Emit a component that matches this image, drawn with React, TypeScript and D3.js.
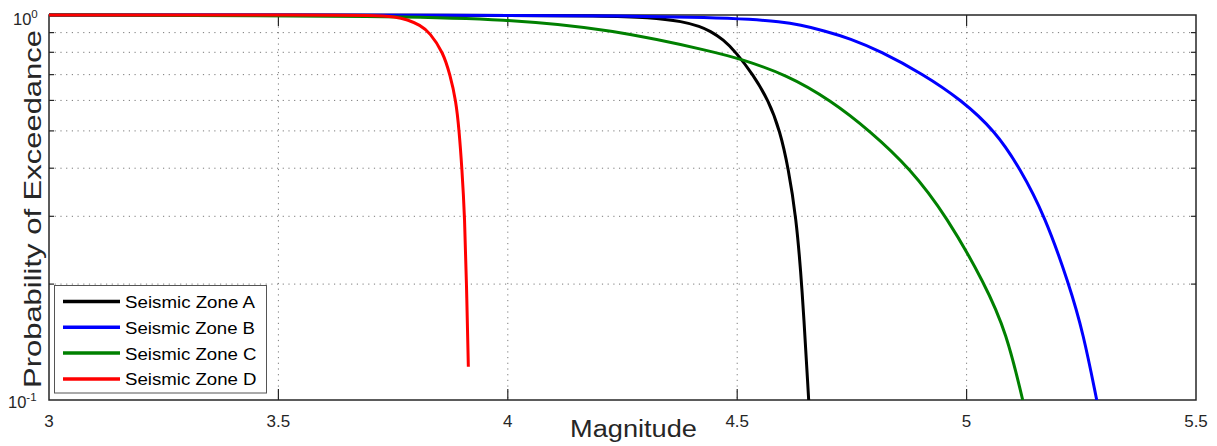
import React from "react";
import * as d3 from "d3";

// ---- Data ----
const zoneAMag = [3.0, 3.998, 4.201, 4.31, 4.3825, 4.4189, 4.4407, 4.4697, 4.4974, 4.5344, 4.5682, 4.5933, 4.6114, 4.6282, 4.6412, 4.6558];
const zoneAProb = [1.0, 0.999, 0.9953, 0.9869, 0.9619, 0.9335, 0.9089, 0.8637, 0.8, 0.7, 0.6, 0.5, 0.4, 0.3, 0.2, 0.1];

const zoneBMag = [3.0, 3.998, 4.2446, 4.4473, 4.5279, 4.5933, 4.6369, 4.6914, 4.7459, 4.8112, 4.9028, 4.99, 5.0619, 5.1164, 5.1709, 5.2232, 5.2544, 5.2836];
const zoneBProb = [1.0, 0.9994, 0.9953, 0.9863, 0.9746, 0.9607, 0.9431, 0.9089, 0.869, 0.8063, 0.7047, 0.6, 0.5, 0.4, 0.3, 0.2, 0.149, 0.1];

const zoneCMag = [3.0, 3.4991, 3.7214, 3.9976, 4.2299, 4.4538, 4.5061, 4.6079, 4.7044, 4.7894, 4.8766, 4.9566, 5.0401, 5.0874, 5.1223];
const zoneCProb = [1.0, 0.9964, 0.9911, 0.9775, 0.9169, 0.8, 0.7694, 0.7, 0.6, 0.5, 0.4, 0.3, 0.2, 0.149, 0.1];

const zoneDMag = [3.0, 3.612, 3.7, 3.758, 3.78, 3.809, 3.83, 3.859, 3.874, 3.887, 3.894, 3.9, 3.906, 3.91, 3.914];
const zoneDProb = [1.0, 1.0, 0.998, 0.99, 0.973, 0.942, 0.9, 0.8, 0.7, 0.6, 0.5, 0.4, 0.3, 0.2, 0.122];

const seriesNames = ["Seismic Zone A", "Seismic Zone B", "Seismic Zone C", "Seismic Zone D"];
const seriesColors = ["#000000", "#0000ff", "#008000", "#ff0000"];

const xTicks = [3, 3.5, 4, 4.5, 5, 5.5];
const xTickLabels = ["3", "3.5", "4", "4.5", "5", "5.5"];
const yMinorTicks = [0.2, 0.3, 0.4, 0.5, 0.6, 0.7, 0.8, 0.9];

const xLabel = "Magnitude";
const yLabel = "Probability of Exceedance";

export default function App() {
  const W = 1217;
  const H = 446;
  const left = 49, right = 1196, top = 15, bottom = 400;

  const x = d3.scaleLinear().domain([3, 5.5]).range([left, right]);
  const y = d3.scaleLog().domain([0.1, 1]).range([bottom, top]);

  const series = [
    { mag: zoneAMag, prob: zoneAProb },
    { mag: zoneBMag, prob: zoneBProb },
    { mag: zoneCMag, prob: zoneCProb },
    { mag: zoneDMag, prob: zoneDProb },
  ];

  const line = d3
    .line<[number, number]>()
    .x((d) => x(d[0]))
    .y((d) => y(d[1]))
    .curve(d3.curveBasis);

  const axisColor = "#262626";
  const gridColor = "#7a7a7a";
  const font = "'Liberation Sans', Arial, Helvetica, sans-serif";

  return (
    <svg
      width={W}
      height={H}
      style={{ position: "absolute", left: 0, top: 0, background: "#fff" }}
      fontFamily={font}
    >
      <defs>
        <clipPath id="plotClip">
          <rect x={left} y={top - 3} width={right - left} height={bottom - top + 3} />
        </clipPath>
      </defs>
      <rect x={0} y={0} width={W} height={H} fill="#fff" />

      {/* grid */}
      {xTicks
        .filter((t) => t > 3 && t < 5.5)
        .map((t) => (
          <line
            key={"gx" + t}
            x1={x(t)}
            x2={x(t)}
            y1={top}
            y2={bottom}
            stroke={gridColor}
            strokeWidth={1}
            strokeDasharray="1.2 4.5"
          />
        ))}
      {yMinorTicks.map((t) => (
        <line
          key={"gy" + t}
          x1={left}
          x2={right}
          y1={y(t)}
          y2={y(t)}
          stroke={gridColor}
          strokeWidth={1}
          strokeDasharray="1.2 4.5"
        />
      ))}

      {/* box */}
      <rect
        x={left}
        y={top}
        width={right - left}
        height={bottom - top}
        fill="none"
        stroke={axisColor}
        strokeWidth={1.5}
      />

      {/* ticks */}
      {xTicks
        .filter((t) => t > 3 && t < 5.5)
        .map((t) => (
          <g key={"tx" + t} stroke={axisColor} strokeWidth={1.2}>
            <line x1={x(t)} x2={x(t)} y1={bottom} y2={bottom - 11} />
            <line x1={x(t)} x2={x(t)} y1={top} y2={top + 11} />
          </g>
        ))}
      {yMinorTicks.map((t) => (
        <g key={"ty" + t} stroke={axisColor} strokeWidth={1.2}>
          <line x1={left} x2={left + 5} y1={y(t)} y2={y(t)} />
          <line x1={right} x2={right - 5} y1={y(t)} y2={y(t)} />
        </g>
      ))}

      {/* curves */}
      <g clipPath="url(#plotClip)">
        {series.map((s, i) => (
          <path
            key={"s" + i}
            d={line(s.mag.map((m, j) => [m, s.prob[j]] as [number, number])) || ""}
            fill="none"
            stroke={seriesColors[i]}
            strokeWidth={3}
            strokeLinejoin="round"
          />
        ))}
      </g>

      {/* x tick labels */}
      {xTicks.map((t, i) => (
        <text
          key={"xl" + t}
          x={x(t)}
          y={427}
          textAnchor="middle"
          fontSize={17}
          fill={axisColor}
        >
          {xTickLabels[i]}
        </text>
      ))}

      {/* y tick labels */}
      <text x={13} y={25} fontSize={16.5} fill={axisColor}>
        10
        <tspan dy={-7} fontSize={11.5}>0</tspan>
      </text>
      <text x={8} y={408} fontSize={16.5} fill={axisColor}>
        10
        <tspan dy={-7} fontSize={11.5}>-1</tspan>
      </text>

      {/* axis labels */}
      <text x={570} y={437} fontSize={23.5} fill={axisColor} textLength={127} lengthAdjust="spacingAndGlyphs">
        {xLabel}
      </text>
      <text
        transform={`translate(41, 209) rotate(-90)`}
        textAnchor="middle"
        fontSize={24.5}
        fill={axisColor}
        textLength={358}
        lengthAdjust="spacingAndGlyphs"
      >
        {yLabel}
      </text>

      {/* legend */}
      <rect x={54.5} y={285.5} width={212} height={107.5} fill="#fff" stroke="#555" strokeWidth={1} />
      {seriesNames.map((name, i) => {
        const by = 308 + i * 25.8;
        return (
          <g key={"lg" + i}>
            <line x1={63} x2={120} y1={by - 6.5} y2={by - 6.5} stroke={seriesColors[i]} strokeWidth={3.5} />
            <text
              x={125}
              y={by}
              fontSize={16.3}
              fill="#000"
              textLength={i < 2 ? 130 : 131.5}
              lengthAdjust="spacingAndGlyphs"
            >
              {name}
            </text>
          </g>
        );
      })}
    </svg>
  );
}
